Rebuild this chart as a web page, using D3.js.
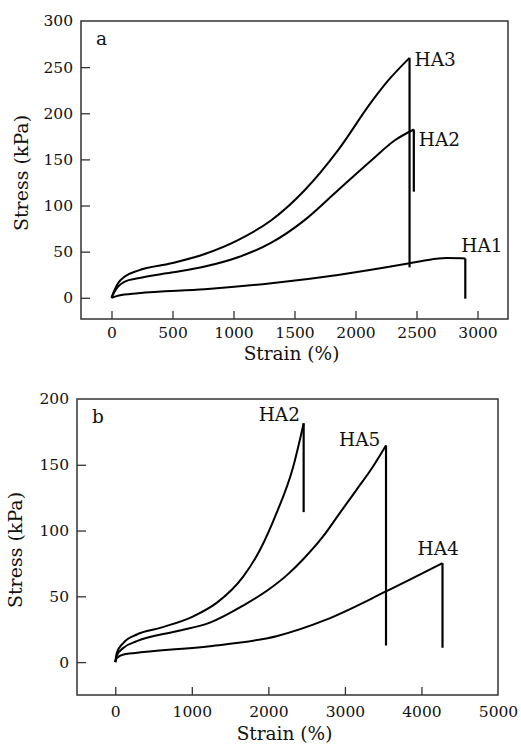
<!DOCTYPE html>
<html>
<head>
<meta charset="utf-8">
<script src="https://cdn.jsdelivr.net/npm/d3@7"></script>
<style>
  body { margin: 0; background: #fff; }
  svg text { font-family: "DejaVu Serif", "Liberation Serif", serif; }
</style>
</head>
<body>
<div id="chart"></div>
<script>
// ---- data (strain %, stress kPa) ----
// panel a
const strainA_HA3 = [0, 20, 54, 109, 218, 491, 764, 1037, 1310, 1583, 1856, 2129, 2265, 2443];
const stressA_HA3 = [0, 7, 15.8, 23, 29.5, 37.4, 47.5, 62.6, 84, 116.5, 159.7, 212, 235, 260];
const dropA_HA3 = 33;

const strainA_HA2 = [0, 20, 54, 109, 218, 491, 764, 1037, 1310, 1583, 1856, 2129, 2320, 2478];
const stressA_HA2 = [0, 5.5, 12.2, 17.6, 21.2, 27.3, 33.8, 43.9, 59.7, 84.2, 116.5, 148.8, 170.5, 182.4];
const dropA_HA2 = 115;

const strainA_HA1 = [0, 60, 218, 764, 1310, 1856, 2443, 2566, 2744, 2866, 2900];
const stressA_HA1 = [0, 2.5, 5, 9.3, 15.8, 24.8, 37.4, 40.3, 43, 42.8, 42.5];
const dropA_HA1 = -1;

// panel b
const strainB_HA2 = [0, 20, 108, 282, 586, 1020, 1324, 1671, 1888, 2105, 2322, 2461];
const stressB_HA2 = [0, 7, 14.7, 21, 26, 34.8, 45, 65, 85, 113, 148, 181.5];
const dropB_HA2 = 114;

const strainB_HA5 = [0, 20, 108, 282, 803, 1237, 1671, 2000, 2250, 2452, 2712, 2930, 3147, 3363, 3537];
const stressB_HA5 = [0, 5, 10.9, 15.9, 23.5, 30, 43, 55, 66.5, 78, 95.3, 113, 130.6, 148.3, 164.7];
const dropB_HA5 = 12.6;

const strainB_HA4 = [0, 20, 108, 369, 1237, 2105, 2756, 3537, 4275];
const stressB_HA4 = [0, 3, 5.8, 7.6, 12.1, 19.7, 32.3, 53.7, 75.2];
const dropB_HA4 = 10.9;

// ticks
const ticksA_x = [0, 500, 1000, 1500, 2000, 2500, 3000];
const ticksA_y = [0, 50, 100, 150, 200, 250, 300];
const ticksB_x = [0, 1000, 2000, 3000, 4000, 5000];
const ticksB_y = [0, 50, 100, 150, 200];

const W = 521, H = 745;
const FONT = "'DejaVu Serif', 'Liberation Serif', serif";
const svg = d3.select("#chart").append("svg")
    .attr("width", W)
    .attr("height", H);

function zip(xs, ys) {
    return xs.map((x, i) => ({ x: x, y: ys[i] }));
}

// draws one panel
function drawPanel(opt) {
    const x = d3.scaleLinear().domain(opt.xDomain).range([opt.left, opt.right]);
    const y = d3.scaleLinear().domain(opt.yDomain).range([opt.bottom, opt.top]);
    const g = svg.append("g");

    // frame
    g.append("rect")
        .attr("x", opt.left).attr("y", opt.top)
        .attr("width", opt.right - opt.left)
        .attr("height", opt.bottom - opt.top)
        .attr("fill", "none")
        .attr("stroke", "#333")
        .attr("stroke-width", 1.5);

    // x axis (ticks pointing inside)
    const xa = g.append("g")
        .attr("transform", `translate(0,${opt.bottom})`)
        .call(d3.axisBottom(x).tickValues(opt.xTicks).tickFormat(d3.format("d"))
            .tickSizeInner(-8).tickSizeOuter(0).tickPadding(opt.xPad));
    xa.attr("font-family", null);
    xa.select(".domain").remove();
    xa.selectAll("line").attr("stroke", "#333").attr("stroke-width", 1.3);
    xa.selectAll("text").attr("font-size", 15.5).attr("fill", "#111").style("font-family", FONT);
    xa.selectAll(".tick").filter(d => d === opt.xDomain[1]).select("line").remove();

    // y axis
    const ya = g.append("g")
        .attr("transform", `translate(${opt.left},0)`)
        .call(d3.axisLeft(y).tickValues(opt.yTicks).tickFormat(d3.format("d"))
            .tickSizeInner(-9).tickSizeOuter(0).tickPadding(8));
    ya.attr("font-family", null);
    ya.select(".domain").remove();
    ya.selectAll("line").attr("stroke", "#333").attr("stroke-width", 1.3);
    ya.selectAll("text").attr("font-size", 15.5).attr("fill", "#111").style("font-family", FONT);
    // the top tick falls on the frame
    ya.selectAll(".tick").filter(d => d === opt.yDomain[1]).select("line").remove();

    // axis titles
    g.append("text")
        .attr("x", (opt.left + opt.right) / 2 - 3)
        .attr("y", opt.xTitleY)
        .attr("text-anchor", "middle")
        .style("font-family", FONT)
        .attr("font-size", 18.5)
        .attr("fill", "#111")
        .text("Strain (%)");
    g.append("text")
        .attr("transform", `translate(${opt.yTitleX},${(opt.top + opt.bottom) / 2 + 3}) rotate(-90)`)
        .attr("text-anchor", "middle")
        .style("font-family", FONT)
        .attr("font-size", 19)
        .attr("fill", "#111")
        .text("Stress (kPa)");

    // panel letter
    g.append("text")
        .attr("x", opt.left + 15).attr("y", opt.top + 24)
        .style("font-family", FONT)
        .attr("font-size", 18.5)
        .attr("fill", "#111")
        .text(opt.letter);

    const curve = d3.line()
        .x(d => x(d.x))
        .y(d => y(d.y))
        .curve(d3.curveMonotoneX);
    const straight = d3.line()
        .x(d => x(d.x))
        .y(d => y(d.y));

    opt.series.forEach(s => {
        const pts = zip(s.xs, s.ys);
        g.append("path")
            .datum(pts)
            .attr("fill", "none")
            .attr("stroke", "#000")
            .attr("stroke-width", 2)
            .attr("stroke-linejoin", "round")
            .attr("d", curve);
        // fracture: vertical drop at the last strain
        const last = pts[pts.length - 1];
        g.append("path")
            .datum([last, { x: last.x, y: s.drop }])
            .attr("fill", "none")
            .attr("stroke", "#000")
            .attr("stroke-width", 2.2)
            .attr("d", straight);
        g.append("text")
            .attr("x", x(last.x) + s.dx)
            .attr("y", y(last.y) + s.dy)
            .style("font-family", FONT)
            .attr("font-size", 18.5)
            .attr("fill", "#111")
            .text(s.name);
    });
}

drawPanel({
    left: 81, right: 508, top: 21, bottom: 319,
    xDomain: [-250, 3250], yDomain: [-23, 300],
    xTicks: ticksA_x, yTicks: ticksA_y,
    xPad: 8, xTitleY: 360, yTitleX: 28,
    letter: "a",
    series: [
        { name: "HA3", xs: strainA_HA3, ys: stressA_HA3, drop: dropA_HA3, dx: 5, dy: 8 },
        { name: "HA2", xs: strainA_HA2, ys: stressA_HA2, drop: dropA_HA2, dx: 5, dy: 17 },
        { name: "HA1", xs: strainA_HA1, ys: stressA_HA1, drop: dropA_HA1, dx: -4, dy: -7 }
    ]
});

drawPanel({
    left: 77, right: 498, top: 399, bottom: 695,
    xDomain: [-500, 5000], yDomain: [-25, 200],
    xTicks: ticksB_x, yTicks: ticksB_y,
    xPad: 11, xTitleY: 740, yTitleX: 22,
    letter: "b",
    series: [
        { name: "HA2", xs: strainB_HA2, ys: stressB_HA2, drop: dropB_HA2, dx: -45, dy: -2 },
        { name: "HA5", xs: strainB_HA5, ys: stressB_HA5, drop: dropB_HA5, dx: -47, dy: 1 },
        { name: "HA4", xs: strainB_HA4, ys: stressB_HA4, drop: dropB_HA4, dx: -25, dy: -8 }
    ]
});
</script>
</body>
</html>
